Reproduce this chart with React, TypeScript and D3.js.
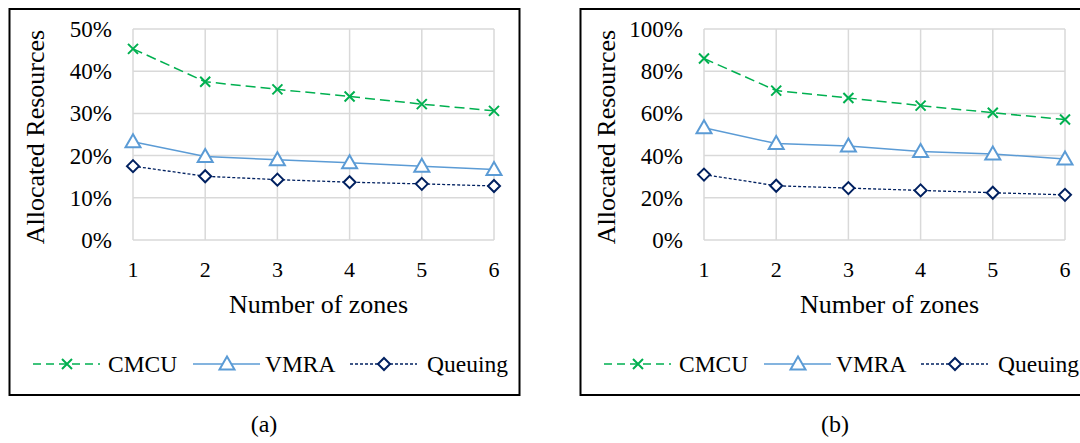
import React from 'react';
import * as d3 from 'd3';

// data (percent)
const zones = [1, 2, 3, 4, 5, 6];
const seriesNames = ['CMCU', 'VMRA', 'Queuing'];

const cmcuA = [45.3, 37.5, 35.7, 34.0, 32.2, 30.6];
const vmraA = [23.3, 19.8, 19.0, 18.3, 17.5, 16.7];
const queuingA = [17.5, 15.1, 14.3, 13.7, 13.3, 12.8];
const yTicksA = [0, 10, 20, 30, 40, 50];

const cmcuB = [86.0, 70.8, 67.3, 63.7, 60.3, 57.1];
const vmraB = [53.2, 45.7, 44.6, 41.9, 40.8, 38.4];
const queuingB = [31.0, 25.7, 24.6, 23.5, 22.4, 21.4];
const yTicksB = [0, 20, 40, 60, 80, 100];

const FONT = '"Liberation Serif", "Times New Roman", serif';

// look of each series
const styles = [
  { color: '#00B050', dash: '10,5', width: 1.5, marker: 'x' },
  { color: '#5B9BD5', dash: null, width: 1.5, marker: 'tri' },
  { color: '#002060', dash: '3,2', width: 1.3, marker: 'dia' },
];

function Marker({ kind, x, y, color }: { kind: string; x: number; y: number; color: string }) {
  if (kind === 'x') {
    const r = 5;
    return (
      <path
        d={`M${x - r},${y - r}L${x + r},${y + r}M${x - r},${y + r}L${x + r},${y - r}`}
        stroke={color}
        strokeWidth={2}
        fill="none"
      />
    );
  }
  if (kind === 'tri') {
    const w = 7.5, h = 13;
    return (
      <path
        d={`M${x},${y - h / 2 - 1}L${x + w},${y + h / 2 - 1}L${x - w},${y + h / 2 - 1}Z`}
        stroke={color}
        strokeWidth={2}
        fill="#fff"
      />
    );
  }
  const r = 6;
  return (
    <path
      d={`M${x},${y - r}L${x + r},${y}L${x},${y + r}L${x - r},${y}Z`}
      stroke={color}
      strokeWidth={2}
      fill="#fff"
    />
  );
}

function Panel({ x0, series, yTicks, caption }: { x0: number; series: number[][]; yTicks: number[]; caption: string }) {
  const top = 9;
  const plotL = x0 + 124;
  const plotR = x0 + 485;
  const plotT = 29;
  const plotB = 240;

  const x = d3.scaleLinear().domain([1, 6]).range([plotL, plotR]);
  const y = d3.scaleLinear().domain([0, yTicks[yTicks.length - 1]]).range([plotB, plotT]);
  const lineGen = d3.line<number>().x((_, i) => x(zones[i])).y(d => y(d));

  const legendX = [
    { line: 24, text: 99 },
    { line: 184, text: 256 },
    { line: 341, text: 418 },
  ];
  const legY = 364;

  return (
    <g fontFamily={FONT} fill="#000">
      <rect x={x0 + 0.5} y={top} width={510} height={386} fill="#fff" stroke="#000" strokeWidth={2} />

      {/* grid */}
      {yTicks.map(t => (
        <line key={'h' + t} x1={plotL} x2={plotR} y1={y(t)} y2={y(t)} stroke="#D9D9D9" strokeWidth={1.5} />
      ))}
      {zones.map(z => (
        <line key={'v' + z} x1={x(z)} x2={x(z)} y1={plotT} y2={plotB} stroke="#D9D9D9" strokeWidth={1.5} />
      ))}

      {/* tick labels */}
      {yTicks.map(t => (
        <text key={'yt' + t} x={plotL - 21} y={y(t)} dy="0.35em" textAnchor="end" fontSize={23}>
          {t + '%'}
        </text>
      ))}
      {zones.map(z => (
        <text key={'xt' + z} x={x(z)} y={277} textAnchor="middle" fontSize={22}>
          {z}
        </text>
      ))}

      <text x={(plotL + plotR) / 2 + 5} y={313} textAnchor="middle" fontSize={26}>
        Number of zones
      </text>
      <text
        transform={`translate(${x0 + 26},${137}) rotate(-90)`}
        textAnchor="middle"
        dy="0.35em"
        fontSize={26}
      >
        Allocated Resources
      </text>

      {/* series */}
      {series.map((vals, si) => {
        const s = styles[si];
        return (
          <g key={seriesNames[si]}>
            <path
              d={lineGen(vals) || ''}
              fill="none"
              stroke={s.color}
              strokeWidth={s.width}
              strokeDasharray={s.dash || undefined}
            />
            {vals.map((v, i) => (
              <Marker key={i} kind={s.marker} x={x(zones[i])} y={y(v)} color={s.color} />
            ))}
          </g>
        );
      })}

      {/* legend */}
      {seriesNames.map((name, si) => {
        const s = styles[si];
        const lx = x0 + legendX[si].line;
        return (
          <g key={'leg' + name}>
            <line
              x1={lx}
              x2={lx + 67}
              y1={legY}
              y2={legY}
              stroke={s.color}
              strokeWidth={s.width}
              strokeDasharray={s.dash ? (si === 0 ? '8,5' : s.dash) : undefined}
            />
            <Marker kind={s.marker} x={lx + 34} y={legY} color={s.color} />
            <text x={x0 + legendX[si].text} y={372} fontSize={23.5}>
              {name}
            </text>
          </g>
        );
      })}

      <text x={x0 + 255} y={432} textAnchor="middle" fontSize={24}>
        {caption}
      </text>
    </g>
  );
}

export default function App() {
  return (
    <svg
      width={1080}
      height={443}
      viewBox="0 0 1080 443"
      style={{ position: 'absolute', left: 0, top: 0, background: '#fff' }}
    >
      <rect width={1080} height={443} fill="#fff" />
      <Panel x0={9} series={[cmcuA, vmraA, queuingA]} yTicks={yTicksA} caption="(a)" />
      <Panel x0={580} series={[cmcuB, vmraB, queuingB]} yTicks={yTicksB} caption="(b)" />
    </svg>
  );
}
